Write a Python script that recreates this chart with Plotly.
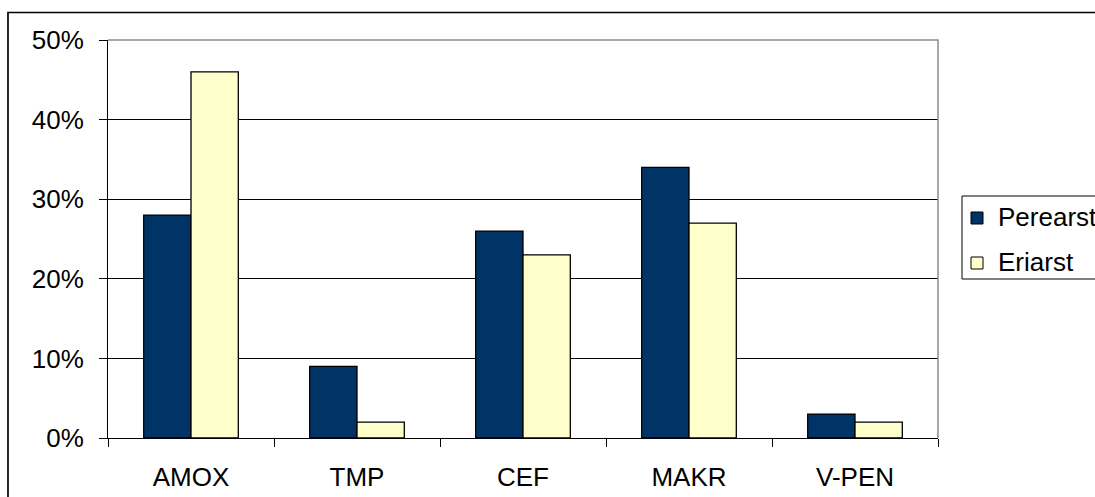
import plotly.graph_objects as go

categories = ["AMOX", "TMP", "CEF", "MAKR", "V-PEN"]
perearst = [28, 9, 26, 34, 3]
eriarst = [46, 2, 23, 27, 2]
series_names = ["Perearst", "Eriarst"]
series_colors = ["#003366", "#FFFFCC"]
y_ticks = [0, 10, 20, 30, 40, 50]
y_tick_labels = ["0%", "10%", "20%", "30%", "40%", "50%"]

L, R, T, B = 108, 938, 40, 438
W, H = 1095, 497
pw, ph = R - L, B - T


def px_x(x):
    return (x - L) / pw


def px_y(y):
    return (B - y) / ph


fig = go.Figure()
for name, vals, col in zip(series_names, [perearst, eriarst], series_colors):
    fig.add_trace(go.Bar(name=name, x=categories, y=vals,
                         marker=dict(color=col, line=dict(color="black", width=1.3))))

font = dict(family="Liberation Sans, Arial, sans-serif", size=26, color="black")

shapes = [
    # outer chart frame
    dict(type="rect", xref="paper", yref="paper",
         x0=px_x(8), x1=px_x(1097), y0=px_y(499), y1=px_y(12.5),
         line=dict(color="black", width=1.7), fillcolor="rgba(0,0,0,0)", layer="below"),
    # grey plot-area edge (top and right)
    dict(type="path", xref="paper", yref="paper", path="M 0,1 L 1,1 L 1,0",
         line=dict(color="#8c8c8c", width=1.5), layer="above"),
    # legend box
    dict(type="rect", xref="paper", yref="paper",
         x0=px_x(962), x1=px_x(1100), y0=px_y(279), y1=px_y(196),
         line=dict(color="black", width=1), fillcolor="white", layer="above"),
]
annotations = []
for i, (name, col) in enumerate(zip(series_names, series_colors)):
    cy = 218 + i * 45
    shapes.append(dict(type="rect", xref="paper", yref="paper",
                       x0=px_x(971), x1=px_x(983), y0=px_y(cy + 6), y1=px_y(cy - 6),
                       line=dict(color="black", width=1), fillcolor=col, layer="above"))
    annotations.append(dict(text=name, xref="paper", yref="paper",
                            x=px_x(996), y=px_y(cy - 1), xanchor="left", yanchor="middle",
                            showarrow=False, font=font))

fig.update_layout(
    width=W, height=H,
    margin=dict(l=L, r=W - R, t=T, b=H - B, autoexpand=False),
    paper_bgcolor="white", plot_bgcolor="white",
    barmode="group", bargap=0.43, bargroupgap=0,
    font=font,
    showlegend=False,
    xaxis=dict(showline=True, linecolor="black", linewidth=1, ticks="outside",
               tickson="boundaries", ticklen=8, tickcolor="black", showgrid=False,
               ticklabelstandoff=16, automargin=False),
    yaxis=dict(range=[0, 50], tickvals=y_ticks, ticktext=y_tick_labels,
               showline=True, linecolor="black", linewidth=1, ticks="outside",
               ticklen=8, tickcolor="black", showgrid=True, gridcolor="black",
               gridwidth=1, zeroline=False, ticklabelstandoff=10, automargin=False),
    shapes=shapes,
    annotations=annotations,
)

fig.write_html("out.html")
